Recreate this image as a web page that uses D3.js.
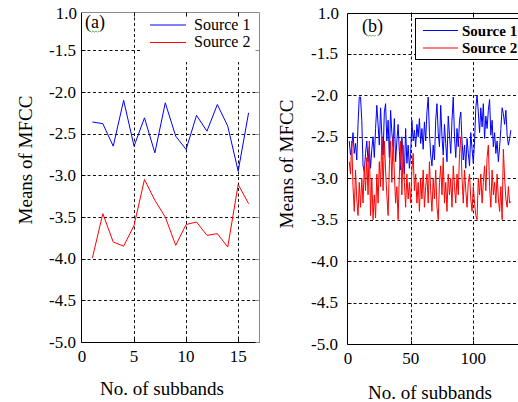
<!DOCTYPE html>
<html>
<head>
<meta charset="utf-8">
<script src="https://cdnjs.cloudflare.com/ajax/libs/d3/7.8.5/d3.min.js"></script>
<style>
  body { margin: 0; background: #fff; overflow: hidden; }
  svg { display: block; }
  text { font-family: 'Liberation Serif', 'Times New Roman', 'DejaVu Serif', serif; }
</style>
</head>
<body>
<svg id="chart" width="518" height="402"></svg>
<script>
// ---- data: panel (a), 16 subbands ----
const subbandsA = [1, 2, 3, 4, 5, 6, 7, 8, 9, 10, 11, 12, 13, 14, 15, 16];
const source1A = [-2.36, -2.38, -2.65, -2.10, -2.65, -2.31, -2.73, -2.13, -2.53, -2.69, -2.28, -2.47, -2.15, -2.41, -2.95, -2.25];
const source2A = [-3.99, -3.46, -3.80, -3.85, -3.60, -3.05, -3.30, -3.50, -3.84, -3.59, -3.56, -3.72, -3.70, -3.86, -3.11, -3.34];

// ---- data: panel (b), 130 subbands (read by eye) ----
const source1B = [
  -2.55, -2.72, -2.62, -2.45, -2.70, -2.58, -2.78, -2.35, -2.02, -2.02,
  -2.30, -2.85, -2.92, -2.70, -2.55, -2.80, -2.62, -2.88, -2.65, -2.50,
  -2.75, -2.40, -2.12, -2.35, -2.60, -2.15, -2.48, -2.72, -2.20, -2.10,
  -2.55, -2.30, -2.75, -2.18, -2.45, -2.62, -2.28, -2.80, -2.55, -2.35,
  -2.68, -2.90, -2.50, -2.75, -2.95, -2.40, -2.82, -2.60, -2.88, -2.70,
  -2.30, -2.55, -2.42, -2.62, -2.35, -2.50, -2.28, -2.58, -2.40, -2.65,
  -2.32, -2.55, -2.20, -2.02, -2.45, -2.72, -2.85, -2.60, -2.78, -2.30,
  -2.10, -2.45, -2.62, -2.12, -2.50, -2.72, -2.35, -2.58, -2.80, -2.25,
  -2.48, -2.70, -2.30, -2.02, -2.50, -2.75, -2.40, -2.62, -2.30, -2.20,
  -2.55, -2.78, -2.60, -2.88, -2.52, -2.70, -2.85, -2.45, -2.65, -2.82,
  -2.55, -2.15, -2.00, -2.20, -2.45, -2.15, -2.38, -2.10, -2.52, -2.25,
  -2.40, -2.18, -2.05, -2.48, -2.30, -2.62, -2.45, -2.70, -2.55, -2.80,
  -2.62, -2.40, -2.15, -2.22, -2.35, -2.18, -2.48, -2.60, -2.52, -2.42
];
const source2B = [
  -2.80, -2.95, -2.55, -3.10, -3.40, -2.90, -3.25, -3.45, -3.05, -3.35,
  -3.00, -3.30, -2.85, -3.15, -2.75, -3.20, -2.55, -3.45, -3.00, -3.50,
  -3.20, -3.48, -2.95, -3.30, -2.80, -3.10, -2.50, -3.15, -2.55, -2.90,
  -3.20, -3.45, -2.85, -2.55, -3.05, -2.50, -2.95, -3.30, -3.10, -3.50,
  -2.95, -2.55, -3.20, -2.60, -3.05, -3.35, -2.95, -3.25, -3.05, -3.30,
  -2.90, -2.70, -3.15, -2.95, -3.30, -3.05, -3.40, -3.00, -3.25, -2.90,
  -3.35, -3.10, -2.95, -3.30, -2.80, -3.15, -3.40, -3.00, -3.25, -2.90,
  -3.35, -3.50, -3.05, -2.85, -3.20, -2.75, -3.30, -3.05, -3.40, -2.95,
  -3.20, -3.00, -3.35, -2.85, -3.10, -3.30, -2.95, -3.20, -2.70, -2.50,
  -3.00, -3.30, -2.90, -3.15, -3.35, -3.05, -2.95, -3.25, -3.40, -3.10,
  -3.30, -3.45, -3.50, -3.00, -3.20, -2.95, -3.30, -3.05, -2.85, -3.15,
  -2.75, -2.60, -3.10, -3.35, -2.90, -3.20, -3.05, -3.30, -2.95, -3.25,
  -3.40, -3.10, -3.50, -2.65, -3.00, -3.25, -3.35, -3.10, -3.30, -3.28
];
const subbandsB = source1B.map((d, i) => i + 1);

const yTicks = [-5.0, -4.5, -4.0, -3.5, -3.0, -2.5, -2.0, -1.5];
const topTickLabel = '1.0';
const xTicksA = [0, 5, 10, 15];
const xTicksB = [0, 50, 100];
const seriesNames = ['Source 1', 'Source 2'];
const seriesColors = ['#0000ff', '#ff0000'];
const xTitle = 'No. of subbands';
const yTitle = 'Means of MFCC';

const FONT = "'Liberation Serif', 'Times New Roman', 'DejaVu Serif', serif";
const svg = d3.select('#chart').attr('font-family', FONT);

function drawPanel(p) {
  const x = d3.scaleLinear().domain(p.xDomain).range([p.left, p.right]);
  const y = d3.scaleLinear().domain(p.yDomain).range([p.bottom, p.top]);
  const g = svg.append('g');
  const snap = v => Math.round(v) + 0.5;

  // dashed grid
  g.selectAll('.hgrid').data(yTicks.slice(1)).join('line')
    .attr('x1', p.left).attr('x2', Math.min(p.right, 518))
    .attr('y1', d => snap(y(d))).attr('y2', d => snap(y(d)))
    .attr('stroke', '#111').attr('stroke-dasharray', '3,2.5');
  g.selectAll('.vgrid').data(p.xTicks.slice(1)).join('line')
    .attr('x1', d => snap(x(d))).attr('x2', d => snap(x(d)))
    .attr('y1', p.top).attr('y2', p.bottom)
    .attr('stroke', '#111').attr('stroke-dasharray', '3,2.5');

  // series
  const line = d3.line().x(d => x(d[0])).y(d => y(d[1]));
  p.series.forEach((vals, k) => {
    g.append('path')
      .datum(vals.map((v, i) => [p.xs[i], v]))
      .attr('d', line)
      .attr('fill', 'none')
      .attr('stroke', seriesColors[k])
      .attr('stroke-width', 1);
  });

  // legend
  const lg = p.legend;
  g.append('rect')
    .attr('x', lg.x).attr('y', lg.y).attr('width', lg.w).attr('height', lg.h)
    .attr('fill', '#fff')
    .attr('stroke', lg.border ? '#000' : 'none');
  seriesNames.forEach((name, k) => {
    const ly = lg.rows[k];
    g.append('line')
      .attr('x1', lg.lx1).attr('x2', lg.lx2).attr('y1', ly).attr('y2', ly)
      .attr('stroke', seriesColors[k]);
    g.append('text')
      .attr('x', lg.tx).attr('y', ly + lg.dy)
      .attr('font-family', FONT)
      .attr('font-size', lg.fontSize).attr('font-weight', lg.bold ? 'bold' : 'normal')
      .text(name);
  });

  // frame
  const L = snap(p.left) - 1, B = snap(p.bottom), T = snap(p.top), R = snap(p.right);
  g.append('line').attr('x1', L).attr('x2', L).attr('y1', T).attr('y2', B).attr('stroke', '#000');
  g.append('line').attr('x1', L).attr('x2', R).attr('y1', B).attr('y2', B).attr('stroke', '#000');
  g.append('line').attr('x1', L).attr('x2', R).attr('y1', T).attr('y2', T).attr('stroke', p.frameColor);
  g.append('line').attr('x1', R).attr('x2', R).attr('y1', T).attr('y2', B).attr('stroke', p.frameColor);

  // inward ticks
  g.selectAll('.xtb').data(p.xTicks.slice(1)).join('line')
    .attr('x1', d => snap(x(d))).attr('x2', d => snap(x(d)))
    .attr('y1', B).attr('y2', B - 4).attr('stroke', '#000');
  g.selectAll('.xtt').data(p.xTicks.slice(1)).join('line')
    .attr('x1', d => snap(x(d))).attr('x2', d => snap(x(d)))
    .attr('y1', T).attr('y2', T + 4).attr('stroke', '#000');
  g.selectAll('.ytl').data(yTicks).join('line')
    .attr('x1', L).attr('x2', L + 4)
    .attr('y1', d => snap(y(d))).attr('y2', d => snap(y(d))).attr('stroke', '#000');
  g.selectAll('.ytr').data(yTicks).join('line')
    .attr('x1', R).attr('x2', R - 4)
    .attr('y1', d => snap(y(d))).attr('y2', d => snap(y(d))).attr('stroke', p.frameColor);

  // tick labels
  g.selectAll('.xl').data(p.xTicks).join('text')
    .attr('x', d => x(d)).attr('y', p.bottom + 20)
    .attr('text-anchor', 'middle').attr('font-size', 17).attr('font-family', FONT)
    .text(d => d);
  g.selectAll('.yl').data(yTicks).join('text')
    .attr('x', p.left - p.labelGap).attr('y', d => y(d) + 5.5)
    .attr('text-anchor', 'end').attr('font-size', 17).attr('font-family', FONT)
    .text(d => d.toFixed(1));
  g.append('text')
    .attr('x', p.left - p.labelGap + 1).attr('y', p.top + 6.5)
    .attr('text-anchor', 'end').attr('font-size', 17).attr('font-family', FONT)
    .text(topTickLabel);

  // panel tag with the green spell-check squiggle
  g.append('text').attr('x', p.tag.x).attr('y', p.tag.y)
    .attr('font-size', 18).attr('font-family', FONT).text(p.tag.text);
  const sx = p.tag.x + 5, sy = p.tag.y + 3;
  g.append('path')
    .attr('d', `M${sx},${sy} l1.5,1.2 l1.5,-1.2 l1.5,1.2 l1.5,-1.2 l1.5,1.2 l1.5,-1.2`)
    .attr('fill', 'none').attr('stroke', '#3cb043').attr('stroke-width', 0.8);

  // axis titles
  g.append('text')
    .attr('transform', `translate(${p.yTitle.x},${p.yTitle.y}) rotate(-90)`)
    .attr('text-anchor', 'middle').attr('font-size', 19).attr('font-family', FONT)
    .text(yTitle);
  g.append('text')
    .attr('x', p.xTitle.x).attr('y', p.xTitle.y)
    .attr('text-anchor', 'middle').attr('font-size', 19).attr('font-family', FONT)
    .text(xTitle);
}

drawPanel({
  left: 82, right: 259, top: 12, bottom: 342,
  xDomain: [0, 17], yDomain: [-5, -1.04],
  xTicks: xTicksA, xs: subbandsA, series: [source1A, source2A],
  frameColor: '#8a8a8a', labelGap: 6,
  legend: { x: 140, y: 13, w: 118, h: 49, border: false, lx1: 150, lx2: 186, tx: 194,
            rows: [25, 42.5], dy: 4.5, fontSize: 16, bold: false },
  tag: { text: '(a)', x: 85, y: 28 },
  yTitle: { x: 32, y: 160 }, xTitle: { x: 162, y: 395 }
});

drawPanel({
  left: 348, right: 348 + 1.253 * 140, top: 12.5, bottom: 344,
  xDomain: [0, 140], yDomain: [-5, -1.0],
  xTicks: xTicksB, xs: subbandsB, series: [source1B, source2B],
  frameColor: '#000', labelGap: 10,
  legend: { x: 415.5, y: 18.5, w: 120, h: 41, border: true, lx1: 423, lx2: 458, tx: 462,
            rows: [30.5, 48], dy: 5, fontSize: 15, bold: true },
  tag: { text: '(b)', x: 362, y: 32 },
  yTitle: { x: 293, y: 164 }, xTitle: { x: 430, y: 399 }
});
</script>
</body>
</html>
